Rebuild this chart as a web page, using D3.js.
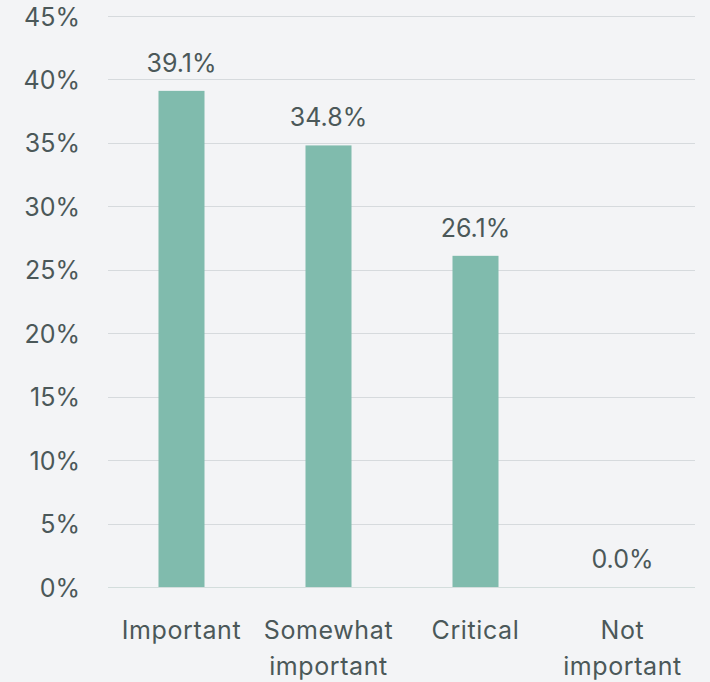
<!DOCTYPE html>
<html>
<head>
<meta charset="utf-8">
<script src="https://cdn.jsdelivr.net/npm/d3@7"></script>
<style>
  html, body { margin: 0; padding: 0; background: #f3f4f6; }
  svg { display: block; }
  text { font-family: Inter, "Noto Sans", sans-serif; fill: #4b5859; }
</style>
</head>
<body>
<svg id="chart" width="710" height="682"></svg>
<script>
// Survey responses: share of respondents per importance rating
const categories = [["Important"], ["Somewhat", "important"], ["Critical"], ["Not", "important"]];
const values = [39.1, 34.8, 26.1, 0.0];
const yTicks = [0, 5, 10, 15, 20, 25, 30, 35, 40, 45];

const svg = d3.select("#chart");
const plotLeft = 108, plotRight = 696, plotTop = 16, plotBottom = 587;
const fontSize = 25;

const keys = categories.map(c => c.join(" "));
const x = d3.scaleBand().domain(keys).range([plotLeft, plotRight]).padding(0);
const y = d3.scaleLinear().domain([0, 45]).range([plotBottom, plotTop]);
const barW = x.bandwidth() * 0.313;

// gridlines
svg.append("g")
  .selectAll("line")
  .data(yTicks)
  .join("line")
  .attr("x1", plotLeft).attr("x2", plotRight - 1)
  .attr("y1", d => Math.round(y(d)) + 0.5)
  .attr("y2", d => Math.round(y(d)) + 0.5)
  .attr("stroke", d => d === 0 ? "#d3dddc" : "#d6dadd")
  .attr("stroke-width", 1.2);

// y axis labels
const yAxis = d3.axisLeft(y).tickValues(yTicks).tickFormat(d => d + "%").tickSize(0).tickPadding(0);
const gy = svg.append("g").attr("transform", "translate(80,0)").call(yAxis);
gy.select(".domain").remove();
gy.selectAll("text")
  .attr("font-size", fontSize)
  .attr("font-family", "Inter, 'Noto Sans', sans-serif")
  .attr("fill", "#4b5859")
  .attr("dy", "0.36em");

// bars
svg.append("g")
  .selectAll("rect")
  .data(values)
  .join("rect")
  .attr("x", (d, i) => x(keys[i]) + x.bandwidth() / 2 - barW / 2)
  .attr("width", barW)
  .attr("y", d => y(d))
  .attr("height", d => y(0) - y(d))
  .attr("fill", "#80bbad");

// value labels
svg.append("g")
  .selectAll("text")
  .data(values)
  .join("text")
  .attr("x", (d, i) => x(keys[i]) + x.bandwidth() / 2)
  .attr("y", d => y(d) - 19)
  .attr("text-anchor", "middle")
  .attr("font-size", fontSize)
  .text(d => d.toFixed(1) + "%");

// category labels (wrapped)
const xl = svg.append("g")
  .selectAll("text")
  .data(categories)
  .join("text")
  .attr("x", (d, i) => x(keys[i]) + x.bandwidth() / 2)
  .attr("y", 639)
  .attr("text-anchor", "middle")
  .attr("font-size", fontSize)
  .attr("letter-spacing", 0.6);
xl.selectAll("tspan")
  .data((d, i) => d.map(s => ({ s, cx: x(keys[i]) + x.bandwidth() / 2 })))
  .join("tspan")
  .attr("x", d => d.cx)
  .attr("dy", (d, j) => j === 0 ? 0 : 36)
  .text(d => d.s);
</script>
</body>
</html>
